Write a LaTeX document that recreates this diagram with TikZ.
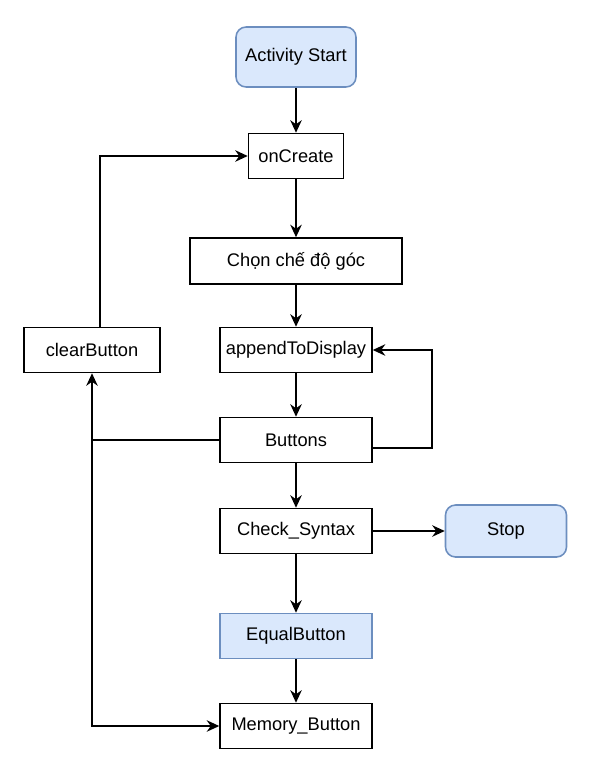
\documentclass[tikz,border=0pt]{standalone}
\usepackage{fontspec}
\setmainfont{Liberation Sans}
\usetikzlibrary{arrows.meta}
\usetikzlibrary{positioning}

\definecolor{startfill}{HTML}{DAE8FC}
\definecolor{startline}{HTML}{6C8EBF}

\tikzset{
    box/.style={draw, line width=0.9pt, minimum width=3.04cm, minimum height=0.9cm, inner sep=2pt, font=\fontsize{10.4}{12}\selectfont},
    bluebox/.style={box, fill=startfill, draw=startline},
    endbox/.style={bluebox, rounded corners=0.2cm},
    flow/.style={->, >={Stealth[length=2.5mm, width=2.3mm]}, line width=0.9pt}
}

\begin{document}
\begin{tikzpicture}[x=0.02cm, y=-0.02cm]
            \useasboundingbox (0, 0) rectangle (595, 777);

            % main column
            \node[endbox, minimum width=2.4cm, minimum height=1.2cm](start) at (296, 57){Activity Start};
            \node[box, minimum width=1.9cm](oncreate) at (296, 156){onCreate};
            \node[box, minimum width=4.24cm, minimum height=0.92cm](mode) at (296, 261){Chọn chế độ góc};
            \node[box](append) at (296, 350){appendToDisplay};
            \node[box](buttons) at (296, 440){Buttons};
            \node[box](check) at (296, 531){Check\_Syntax};
            \node[bluebox](equal) at (296, 636){EqualButton};
            \node[box](memory) at (296, 726){Memory\_Button};

            % side boxes
            \node[box, minimum width=2.72cm](clear) at (92, 350){clearButton};
            \node[endbox, minimum width=2.42cm, minimum height=1.04cm](stop) at (506, 531){Stop};

            \draw[flow](start)--(oncreate);
            \draw[flow](oncreate)--(mode);
            \draw[flow](mode)--(append);
            \draw[flow](append)--(buttons);
            \draw[flow](buttons)--(check);
            \draw[flow](check)--(stop);
            \draw[flow](check)--(equal);
            \draw[flow](equal)--(memory);

            % loops
            \draw[flow]([xshift=0.16cm]clear.north)|-(oncreate.west);
            \draw[flow]([yshift=-0.16cm]buttons.east)--++(59, 0)|-(append.east);

            \coordinate(split) at (clear.south |- buttons.west);
            \draw[flow](buttons.west)--(split)--(clear.south);
            \draw[flow](split)|-(memory.west);
\end{tikzpicture}
\end{document}
